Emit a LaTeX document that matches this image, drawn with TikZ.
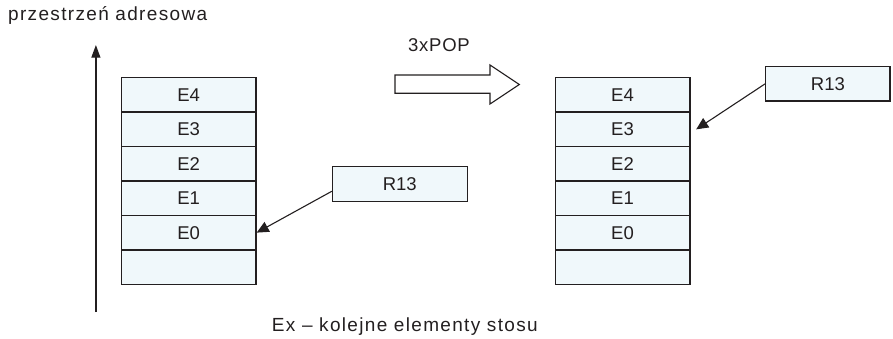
\documentclass[tikz,border=0pt]{standalone}
\usepackage{fontspec}
\setmainfont{Liberation Sans}
\newfontfamily\widesans{Liberation Sans}[LetterSpace=7]
\newfontfamily\opsans{Liberation Sans}[LetterSpace=4]
\usetikzlibrary{arrows.meta,calc}
\definecolor{ink}{RGB}{35,31,32}
\definecolor{cellfill}{RGB}{240,248,251}
\tikzset{
  cell/.style={draw=ink, fill=cellfill, line width=1.3pt, minimum width=134.7pt,
    minimum height=34.43pt, inner sep=0pt, text=ink, font=\fontsize{18.5}{20}\selectfont},
  regbox/.style={cell, minimum height=35pt},
  pointer/.style={draw=ink, line width=1.1pt, -{Triangle[length=12pt,width=11pt]}},
  lbl/.style={text=ink, inner sep=0pt, font=\widesans\fontsize{19}{21}\selectfont}
}
\begin{document}
\begin{tikzpicture}[x=1pt,y=-1pt]
\useasboundingbox (0,0) rectangle (893,339);

% caption texts
\node[lbl, anchor=base west] (title) at (8,21) {przestrzeń adresowa};
\node[lbl, anchor=base west] (legend) at (271.7,331.5) {Ex – kolejne elementy stosu};
\node[lbl, font=\opsans\fontsize{18.5}{21}\selectfont] (op) at (439,45.5) {3xPOP};

% address axis
\coordinate (axlo) at (95.9,312);
\coordinate (axhi) at (95.9,45);
\draw[draw=ink, line width=1.3pt, -{Triangle[length=12.7pt,width=9pt]}] (axlo) -- (axhi);

% stack before
\foreach \k/\t in {0/E4,1/E3,2/E2,3/E1,4/E0,5/{}}
  \node[cell] (a\k) at (188.7,{77.7+34.43*(\k+0.5)}) {\t};
\node[regbox] (ra) at (399.8,184.2) {R13};
\draw[pointer] ($(ra.west)!0.39!(ra.south west)$) -- (a4.east);

% operation arrow
\draw[draw=ink, line width=1.1pt, fill=white]
  (395,75) -- (490,75) -- (490,65) -- (519.3,84.5) -- (490,104) -- (490,93.3) -- (395,93.3) -- cycle;

% stack after
\foreach \k/\t in {0/E4,1/E3,2/E2,3/E1,4/E0,5/{}}
  \node[cell] (b\k) at (622.5,{77.7+34.43*(\k+0.5)}) {\t};
\node[regbox, minimum width=124.3pt, minimum height=34.3pt] (rb) at (827.9,83.85) {R13};
\draw[pointer] (rb.west) -- ($(b1.east)+(5.7,0)$);
\end{tikzpicture}
\end{document}
